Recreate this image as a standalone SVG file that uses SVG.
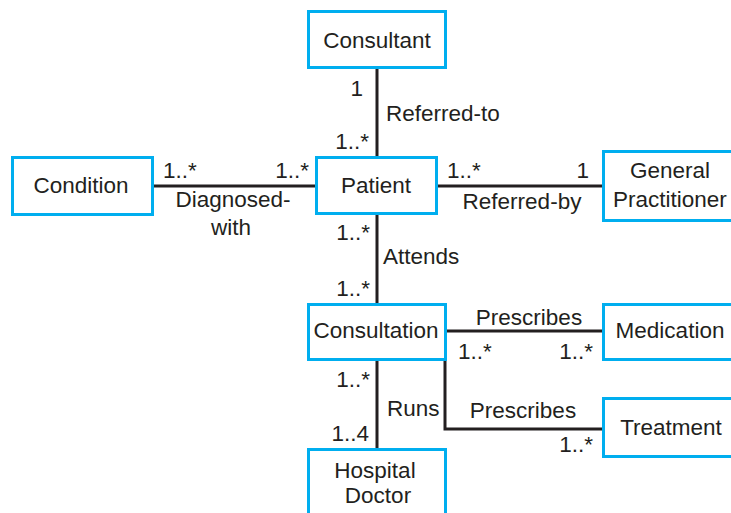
<svg xmlns="http://www.w3.org/2000/svg" width="731" height="513" viewBox="0 0 731 513">
<style>
.box{fill:#fff;stroke:#00aeef;stroke-width:3}
.ln{fill:none;stroke:#231f20;stroke-width:3}
text{font-family:"Liberation Sans",Arial,sans-serif;font-size:22.5px;fill:#231f20}
.m{text-anchor:middle}
.e{text-anchor:end}
</style>
<rect width="731" height="513" fill="#fff"/>
<g id="connectors">
<path class="ln" d="M377 69V156M377 215V303M377 361V448M154 186H315M438 186H602M447 331H602M445 361V429H602"/>
<text x="363" y="96" class="e">1</text>
<text x="369" y="149" class="e">1..*</text>
<text x="386" y="121">Referred-to</text>
<text x="163" y="178">1..*</text>
<text x="309" y="178" class="e">1..*</text>
<text x="233" y="207" class="m">Diagnosed-</text>
<text x="231" y="235" class="m">with</text>
<text x="447" y="178">1..*</text>
<text x="589" y="178" class="e">1</text>
<text x="522" y="209" class="m">Referred-by</text>
<text x="370" y="240" class="e">1..*</text>
<text x="383" y="264">Attends</text>
<text x="370" y="296" class="e">1..*</text>
<text x="529" y="325" class="m">Prescribes</text>
<text x="458" y="359">1..*</text>
<text x="593" y="359" class="e">1..*</text>
<text x="370" y="387" class="e">1..*</text>
<text x="387" y="416">Runs</text>
<text x="369" y="441" class="e">1..4</text>
<text x="523" y="418" class="m">Prescribes</text>
<text x="593" y="452" class="e">1..*</text>
</g>
<g id="consultant"><rect class="box" x="308.5" y="11.5" width="137" height="56"/><text x="377" y="48" class="m">Consultant</text></g>
<g id="patient"><rect class="box" x="316.5" y="157.5" width="120" height="56"/><text x="376" y="193" class="m">Patient</text></g>
<g id="condition"><rect class="box" x="12.5" y="157.5" width="140" height="57"/><text x="81" y="193" class="m">Condition</text></g>
<g id="gp"><rect class="box" x="603.5" y="151.5" width="140" height="69"/><text x="670" y="178" class="m">General</text><text x="613" y="207">Practitioner</text></g>
<g id="consultation"><rect class="box" x="308.5" y="304.5" width="137" height="55"/><text x="376" y="338" class="m">Consultation</text></g>
<g id="medication"><rect class="box" x="603.5" y="304.5" width="140" height="55"/><text x="670" y="338" class="m">Medication</text></g>
<g id="treatment"><rect class="box" x="603.5" y="398.5" width="140" height="58"/><text x="671" y="435" class="m">Treatment</text></g>
<g id="hospital-doctor"><rect class="box" x="308.5" y="449.5" width="137" height="80"/><text x="375" y="478" class="m">Hospital</text><text x="378" y="503" class="m">Doctor</text></g>
</svg>
